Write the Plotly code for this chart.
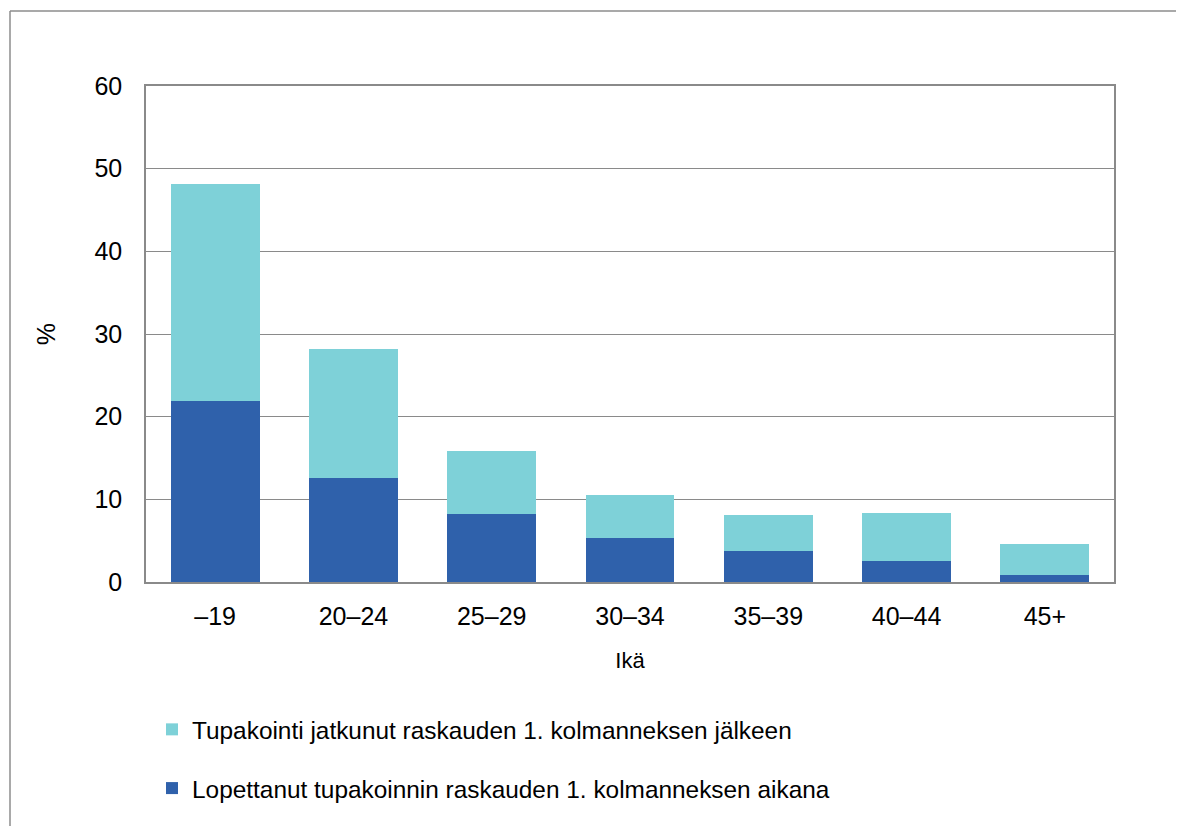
import plotly.graph_objects as go

categories = ["–19", "20–24", "25–29", "30–34", "35–39", "40–44", "45+"]
lopettanut = [21.9, 12.6, 8.2, 5.3, 3.8, 2.6, 0.8]
jatkunut = [26.2, 15.6, 7.6, 5.2, 4.3, 5.7, 3.8]
y_ticks = [0, 10, 20, 30, 40, 50, 60]

name_lop = "Lopettanut tupakoinnin raskauden 1. kolmanneksen aikana"
name_jat = "Tupakointi jatkunut raskauden 1. kolmanneksen jälkeen"

DARK = "#2F61AB"
LIGHT = "#7ED1D8"
GRID = "#8a8a8a"
FONT = "Liberation Sans, Arial, sans-serif"

W, H = 1168, 818
L, T, R, B = 138, 78, 1106, 574  # plot area in figure pixels
PW, PH = R - L, B - T

fig = go.Figure()
fig.add_trace(go.Bar(x=categories, y=lopettanut, name=name_lop, marker_color=DARK,
                     marker_line_width=0, legendgroup="lop", legendrank=2))
fig.add_trace(go.Bar(x=categories, y=jatkunut, name=name_jat, marker_color=LIGHT,
                     marker_line_width=0, legendgroup="jat", legendrank=1))

fig.update_layout(
    width=W, height=H,
    barmode="stack", bargap=0.357,
    plot_bgcolor="white", paper_bgcolor="white",
    margin=dict(l=L, r=W - R, t=T, b=H - B),
    font=dict(family=FONT, size=24, color="black"),
    legend=dict(
        orientation="v", traceorder="grouped", tracegroupgap=24,
        x=(144 - L) / PW, xanchor="left", y=(B - 699) / PH, yanchor="top",
        font=dict(family=FONT, size=24.4, color="black"),
        bgcolor="rgba(0,0,0,0)",
    ),
    showlegend=True,
)

fig.update_yaxes(
    range=[0, 60], tickvals=y_ticks, showgrid=True, gridcolor=GRID, gridwidth=1.3,
    showline=True, linecolor=GRID, linewidth=1.5, mirror=True,
    ticks="", ticklabelstandoff=17, tickfont=dict(size=25),
    title=dict(text="%", font=dict(size=25), standoff=32),
    zeroline=False,
)
fig.update_xaxes(
    showline=True, linecolor=GRID, linewidth=1.5, mirror=True,
    ticks="", ticklabelstandoff=11, tickfont=dict(size=25),
    title=dict(text="Ikä", font=dict(size=22), standoff=24),
)

# outer chart frame (only top and left edges are visible in the reference)
x_left = (2 - L) / PW
y_top = (B - 3) / PH
fig.add_shape(type="line", xref="paper", yref="paper",
              x0=x_left, x1=(W + 20 - L) / PW, y0=y_top, y1=y_top,
              line=dict(color="#8c8c8c", width=1.5), layer="below")
fig.add_shape(type="line", xref="paper", yref="paper",
              x0=x_left, x1=x_left, y0=y_top, y1=(B - H - 20) / PH,
              line=dict(color="#8c8c8c", width=1.5), layer="below")

fig.write_html("out.html")
